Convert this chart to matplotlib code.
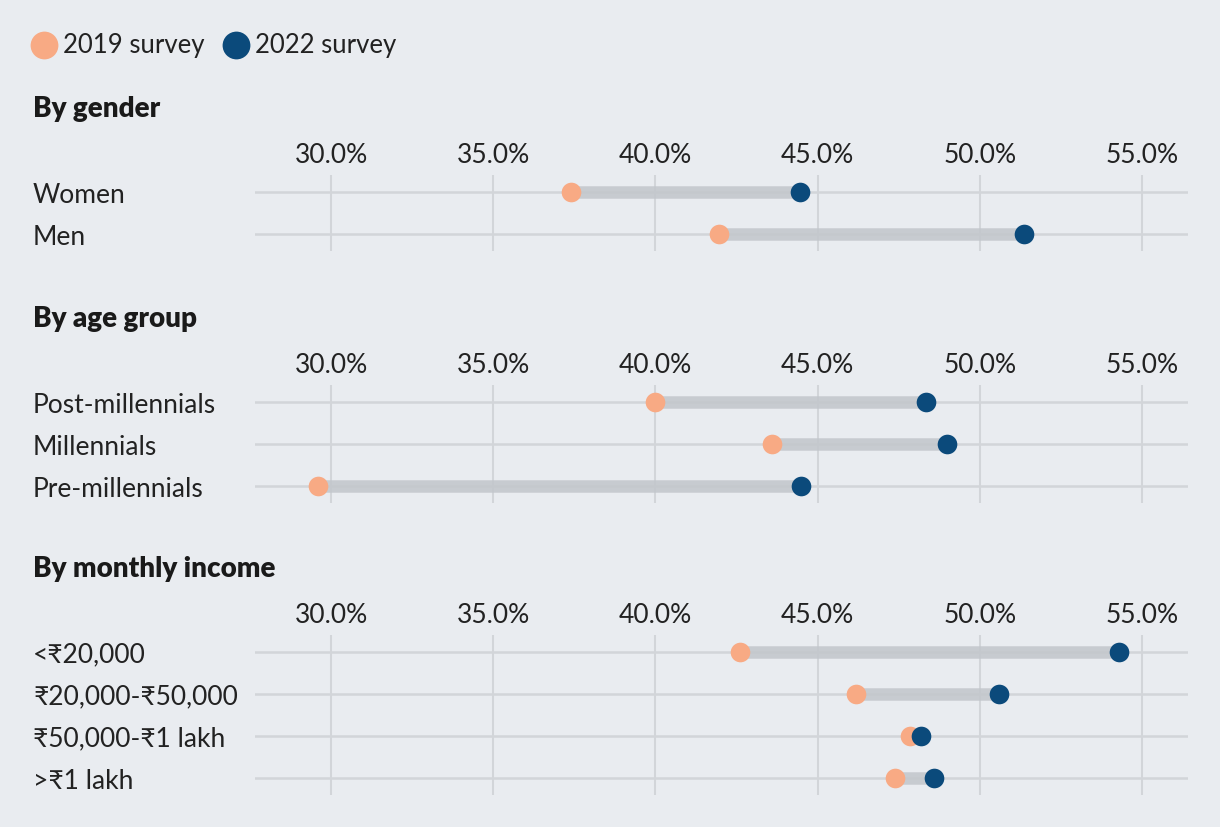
import matplotlib
matplotlib.use('Agg')
import matplotlib.pyplot as plt
from matplotlib.lines import Line2D

plt.rcParams['font.family'] = ['Lato', 'DejaVu Sans']

# data (percent)
groups = ['By gender', 'By age group', 'By monthly income']
gender_labels = ['Women', 'Men']
gender_2019 = [37.4, 41.95]
gender_2022 = [44.45, 51.35]
age_labels = ['Post-millennials', 'Millennials', 'Pre-millennials']
age_2019 = [40.0, 43.6, 29.6]
age_2022 = [48.33, 49.0, 44.5]
income_labels = ['<₹20,000', '₹20,000-₹50,000', '₹50,000-₹1 lakh', '>₹1 lakh']
income_2019 = [42.6, 46.17, 47.84, 47.4]
income_2022 = [54.3, 50.6, 48.2, 48.6]
ticks = [30, 35, 40, 45, 50, 55]
tick_labels = ['30.0%', '35.0%', '40.0%', '45.0%', '50.0%', '55.0%']
legend_labels = ['2019 survey', '2022 survey']

bg = '#e9ecf0'
c19 = '#f8aa84'
c22 = '#0b4a7b'
grid_c = '#d2d5d9'
bar_c = '#c2c6cb'
txt = '#222222'

W, H = 1220, 828
fig = plt.figure(figsize=(W / 100, H / 100), dpi=100, facecolor=bg)

panels = [
    (gender_labels, gender_2019, gender_2022, 109, 176),
    (age_labels, age_2019, age_2022, 319, 386),
    (income_labels, income_2019, income_2022, 569, 636),
]
row_px = 42
left_px, right_px = 255, 1188

for (labels, v19, v22, title_y, top_px), title in zip(panels, groups):
    n = len(labels)
    h_px = row_px * (n - 1 + 0.8)
    ax = fig.add_axes([left_px / W, 1 - (top_px + h_px) / H,
                       (right_px - left_px) / W, h_px / H])
    ax.set_facecolor(bg)
    ax.set_xlim(27.657, 56.418)
    ax.set_ylim(n - 1 + 0.4, -0.4)
    for s in ax.spines.values():
        s.set_visible(False)
    ys = list(range(n))
    for x in ticks:
        ax.axvline(x, color=grid_c, lw=1.5, zorder=0)
    for y in ys:
        ax.axhline(y, color=grid_c, lw=1.8, zorder=0)
    for y, a, b in zip(ys, v19, v22):
        ax.plot([a, b], [y, y], color=bar_c, lw=9, alpha=0.85,
                solid_capstyle='butt', zorder=1)
    ax.scatter(v19, ys, s=200, color=c19, zorder=3, linewidths=0)
    ax.scatter(v22, ys, s=200, color=c22, zorder=4, linewidths=0)
    ax.xaxis.tick_top()
    ax.set_xticks(ticks)
    ax.set_xticklabels(tick_labels)
    ax.tick_params(axis='x', length=0, pad=6, labelsize=19, labelcolor=txt)
    ax.set_yticks(ys)
    ax.set_yticklabels(labels, ha='left')
    ax.tick_params(axis='y', length=0, pad=(left_px - 33) * 0.72,
                   labelsize=19, labelcolor=txt)
    fig.text(33 / W, 1 - title_y / H, title, fontsize=20, fontweight='heavy',
             color='#1a1a1a', va='center', ha='left')

# legend drawn by hand
for (cx, tx), lab, col in zip([(44, 63), (236, 255)], legend_labels, [c19, c22]):
    fig.add_artist(Line2D([cx / W], [1 - 46 / H], marker='o', ls='', color=col,
                          markersize=20, markeredgewidth=0,
                          transform=fig.transFigure))
    fig.text(tx / W, 1 - 46 / H, lab, fontsize=18.5, color=txt,
             va='center', ha='left')

fig.savefig('out.png', dpi=100, facecolor=bg)
